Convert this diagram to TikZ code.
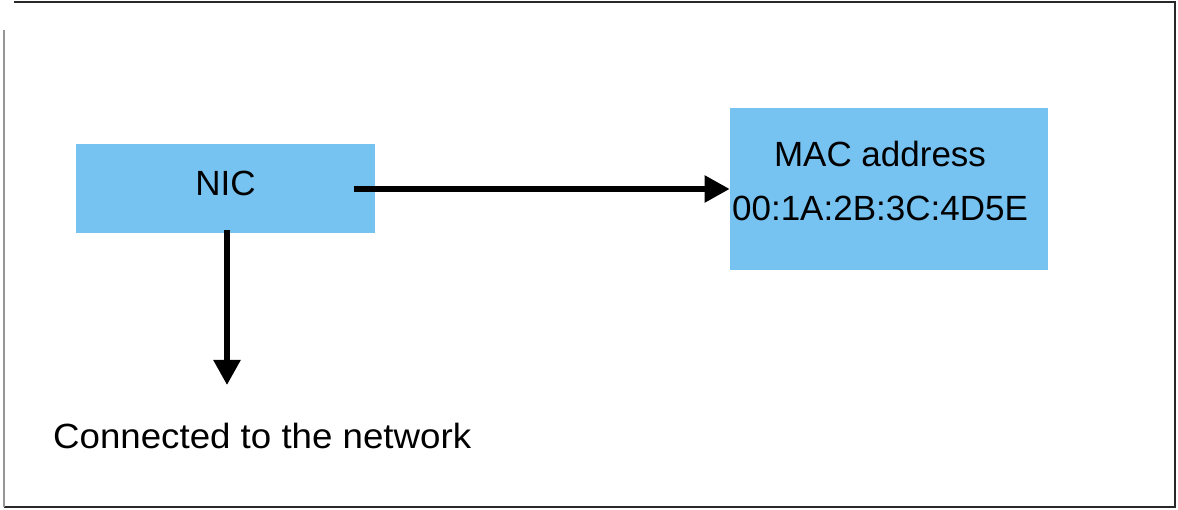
\documentclass[tikz,border=0pt]{standalone}
\usepackage{fontspec}
\setmainfont{Liberation Sans}
\usetikzlibrary{arrows.meta}

\tikzset{every picture/.style={line width=0.75pt}}
\tikzset{
	bluebox/.style={fill={rgb, 255:red, 118; green, 194; blue, 241 }, draw=none, inner sep=0pt},
	boxtext/.style={inner sep=0.75pt, font=\fontsize{35}{42}\selectfont},
	thickarrow/.style={line width=5.5, -{Triangle[length=25pt, width=26pt]}}
}

\begin{document}
\begin{tikzpicture}[x=1pt,y=1pt,yscale=-1]
			\useasboundingbox (0,0) rectangle (1178,510);
			% frame
			\draw [color={rgb, 255:red, 40; green, 40; blue, 40 }, line width=2] (14,2) -- (1175,2) -- (1175,507) -- (4,507);
			\draw [color={rgb, 255:red, 150; green, 150; blue, 150 }, line width=1.5] (4,507) -- (4,30);
			% boxes
			\node [bluebox, minimum width=299, minimum height=89] (nic) at (225.5,188.5) {};
			\node [bluebox, minimum width=318, minimum height=162] (mac) at (889,189) {};
			% texts
			\node [boxtext] (nictext) at (225.5,183) {NIC};
			\node [boxtext] (mactitle) at (880,154) {MAC address};
			\node [boxtext] (macvalue) at (880,208) {00:1A:2B:3C:4D5E};
			\node [boxtext, anchor=west, xscale=1.048] (net) at (52,436) {Connected to the network};
			% connectors
			\coordinate (nicout) at (354,189);
			\coordinate (netin) at (227,385);
			\draw [thickarrow] (nicout) -- (mac.west);
			\draw [thickarrow] (nic.south -| netin) ++(0,-3) -- (netin);
		\end{tikzpicture}
\end{document}
